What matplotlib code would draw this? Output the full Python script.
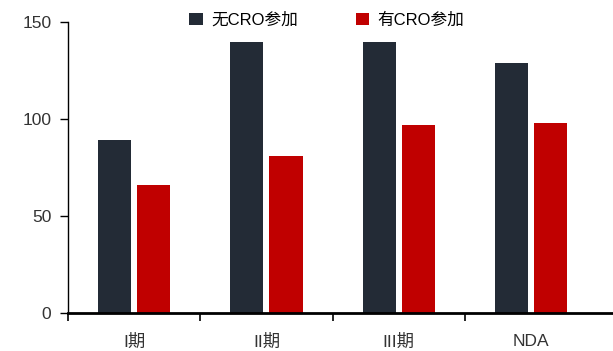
import matplotlib
matplotlib.use("Agg")
import matplotlib.pyplot as plt
import numpy as np
from matplotlib.ticker import FixedLocator

plt.rcParams['font.family'] = ['Liberation Sans', 'Noto Sans CJK SC', 'DejaVu Sans']

categories = ["I期", "II期", "III期", "NDA"]
no_cro = [89, 140, 140, 129]
with_cro = [66, 81, 97, 98]
series_names = ["无CRO参加", "有CRO参加"]

fig = plt.figure(figsize=(6.13, 3.51), dpi=100)
ax = fig.add_axes([0.111, 0.108, 0.889, 0.829])

x = np.arange(len(categories))
w = 0.25
ax.bar(x - 0.148, no_cro, width=w, color="#232B36", label=series_names[0])
ax.bar(x + 0.148, with_cro, width=w, color="#C00000", label=series_names[1])

ax.set_ylim(0, 150)
ax.set_xlim(-0.5, 3.62)
ax.set_yticks([0, 50, 100, 150])
ax.set_xticks(x)
ax.set_xticklabels(categories)
ax.xaxis.set_minor_locator(FixedLocator([-0.5, 0.5, 1.5, 2.5]))
ax.tick_params(axis='x', which='major', length=0, pad=15, labelsize=12.5, colors="#333333")
ax.tick_params(axis='x', which='minor', length=6, width=1.2, direction='out', color="#000000")
ax.tick_params(axis='y', length=6, width=1, direction='out', labelsize=12.5, colors="#333333", pad=6)
ax.tick_params(axis='y', color="#000000")

for s in ['top', 'right']:
    ax.spines[s].set_visible(False)
ax.spines['left'].set_linewidth(1.0)
ax.spines['bottom'].set_linewidth(2.0)

ax.legend(loc='upper center', bbox_to_anchor=(0.475, 1.085), ncol=2, frameon=False,
          fontsize=12, handlelength=0.8, handleheight=0.8, columnspacing=3.5, handletextpad=0.5)

fig.savefig("out.png", dpi=100)
